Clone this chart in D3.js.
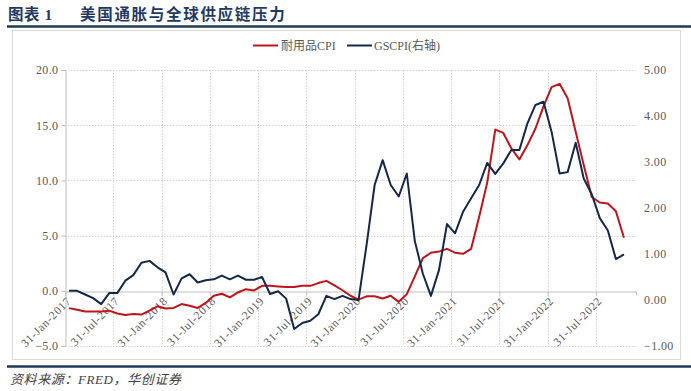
<!DOCTYPE html>
<html>
<head>
<meta charset="utf-8">
<script src="https://cdn.jsdelivr.net/npm/d3@7"></script>
<style>
  html, body { margin: 0; padding: 0; background: #fff; }
  svg { display: block; }
  text { font-family: "Liberation Serif", "Noto Sans CJK SC", serif; }
</style>
</head>
<body>
<svg id="chart" width="691" height="391"></svg>
<script>
// ---- data (monthly, Jan 2017 - Oct 2022) ----
const durableCPI = [
  -1.57, -1.72, -1.87, -1.87, -1.87, -1.80, -2.05, -2.20, -2.10, -2.15, -1.80, -1.40,
  -1.60, -1.55, -1.20, -1.35, -1.55, -1.10, -0.45, -0.27, -0.60, -0.15, 0.15, 0.03,
  0.45, 0.45, 0.40, 0.35, 0.35, 0.45, 0.45, 0.70, 0.90, 0.50, 0.05, -0.45,
  -0.80, -0.50, -0.50, -0.70, -0.45, -1.00, -0.30, 1.30, 2.96, 3.45, 3.55, 3.80,
  3.45, 3.35, 3.80, 6.70, 9.80, 14.60, 14.30, 12.90, 11.90, 13.20, 14.70, 16.70,
  18.45, 18.75, 17.45, 14.40, 11.40, 8.50, 8.00, 7.90, 7.20, 4.80
];
const gscpi = [
  0.20, 0.20, 0.12, 0.04, -0.09, 0.15, 0.15, 0.42, 0.54, 0.81, 0.85, 0.71,
  0.60, 0.12, 0.47, 0.56, 0.38, 0.43, 0.45, 0.53, 0.45, 0.53, 0.44, 0.44,
  0.50, 0.13, 0.19, 0.03, -0.63, -0.50, -0.45, -0.31, 0.09, 0.02, 0.09, 0.02,
  0.00, 1.20, 2.50, 3.04, 2.50, 2.25, 2.75, 1.28, 0.57, 0.09, 0.65, 1.65,
  1.45, 1.92, 2.21, 2.50, 2.98, 2.74, 2.97, 3.26, 3.26, 3.84, 4.24, 4.31,
  3.66, 2.75, 2.78, 3.42, 2.64, 2.30, 1.78, 1.51, 0.89, 0.99
];
const seriesNames = ["耐用品CPI", "GSCPI(右轴)"];
const seriesColors = ["#c0141c", "#15284a"];
const leftTicks = [-5, 0, 5, 10, 15, 20];
const rightTicks = [-1, 0, 1, 2, 3, 4, 5];
const xTickLabels = ["31-Jan-2017","31-Jul-2017","31-Jan-2018","31-Jul-2018","31-Jan-2019","31-Jul-2019",
                     "31-Jan-2020","31-Jul-2020","31-Jan-2021","31-Jul-2021","31-Jan-2022","31-Jul-2022"];
const xTickMonths = xTickLabels.map((d, i) => i * 6);
const title1 = "图表 1";
const title2 = "美国通胀与全球供应链压力";
const source = "资料来源：FRED，华创证券";

// ---- layout ----
const svg = d3.select("#chart");
const plot = { left: 65, right: 636, top: 70, bottom: 346 };
const nMonths = durableCPI.length + 1;

const x = d3.scaleLinear().domain([0, nMonths]).range([plot.left, plot.right]);
const yL = d3.scaleLinear().domain([-5, 20]).range([plot.bottom, plot.top]);
const yR = d3.scaleLinear().domain([-1, 5]).range([plot.bottom, plot.top]);

svg.append("rect").attr("width", 691).attr("height", 391).attr("fill", "#fff");

// title
svg.append("text").attr("x", 8).attr("y", 20)
  .attr("font-family", "Noto Sans CJK SC").attr("font-weight", "bold").attr("font-size", 15.5)
  .attr("letter-spacing", 0.5).attr("fill", "#1f3864").text(title1);
svg.append("text").attr("x", 80).attr("y", 20)
  .attr("font-family", "Noto Sans CJK SC").attr("font-weight", "bold").attr("font-size", 15.5)
  .attr("letter-spacing", 1.7).attr("fill", "#1f3864").text(title2);
svg.append("line").attr("x1", 7).attr("x2", 691).attr("y1", 26.5).attr("y2", 26.5)
  .attr("stroke", "#1f3a56").attr("stroke-width", 2.5);

// chart box
svg.append("rect").attr("x", 12.5).attr("y", 30.5).attr("width", 668).attr("height", 329)
  .attr("fill", "none").attr("stroke", "#d9d9d9");

// footer
svg.append("line").attr("x1", 7).attr("x2", 691).attr("y1", 366.5).attr("y2", 366.5)
  .attr("stroke", "#1f3a56").attr("stroke-width", 2.5);
svg.append("text").attr("x", 10).attr("y", 384)
  .attr("font-family", "Liberation Serif, Noto Sans CJK SC").attr("font-style", "italic")
  .attr("font-size", 13).attr("letter-spacing", 0.6).attr("fill", "#404040").text(source);

// gridlines
const grid = svg.append("g");
grid.selectAll("line.h").data(leftTicks.filter(d => d !== 0)).enter().append("line")
  .attr("x1", plot.left).attr("x2", plot.right)
  .attr("y1", d => Math.round(yL(d)) + 0.5).attr("y2", d => Math.round(yL(d)) + 0.5)
  .attr("stroke", "#d4d4d4").attr("stroke-dasharray", "1.5,1.5");
grid.selectAll("line.v").data(xTickMonths.slice(1)).enter().append("line")
  .attr("x1", d => Math.round(x(d)) + 0.5).attr("x2", d => Math.round(x(d)) + 0.5)
  .attr("y1", plot.top).attr("y2", plot.bottom)
  .attr("stroke", "#d4d4d4").attr("stroke-dasharray", "1.5,1.5");

// x axis at zero
const xAxis = d3.axisBottom(x).tickValues(xTickMonths).tickSize(4).tickFormat("");
const gx = svg.append("g").attr("transform", `translate(0,${Math.round(yL(0)) + 0.5})`).call(xAxis);
gx.select(".domain").attr("stroke", "#bfbfbf");
gx.selectAll(".tick line").attr("stroke", "#bfbfbf");
svg.append("g").selectAll("text").data(xTickMonths).enter().append("text")
  .attr("transform", d => `translate(${x(d) + 4},${yL(0) + 8}) rotate(-45)`)
  .attr("text-anchor", "end").attr("dy", "0.35em")
  .attr("font-size", 11.5).attr("letter-spacing", 0.7).attr("fill", "#595959")
  .text((d, i) => xTickLabels[i]);

// left axis
const gl = svg.append("g").attr("transform", `translate(${plot.left + 0.5},0)`)
  .call(d3.axisLeft(yL).tickValues(leftTicks).tickSize(4).tickPadding(3).tickFormat(d3.format(".1f")));
gl.select(".domain").attr("stroke", "#bfbfbf");
gl.selectAll(".tick line").attr("stroke", "#bfbfbf");
gl.selectAll(".tick text").attr("font-size", 12).attr("fill", "#595959")
  .attr("font-family", "Liberation Serif").attr("letter-spacing", 0.4);

// right axis
const gr = svg.append("g").attr("transform", `translate(${plot.right},0)`)
  .call(d3.axisRight(yR).tickValues(rightTicks).tickSize(0).tickPadding(8).tickFormat(d3.format(".2f")));
gr.select(".domain").remove();
gr.selectAll(".tick text").attr("font-size", 12).attr("fill", "#595959")
  .attr("font-family", "Liberation Serif").attr("letter-spacing", 0.4);

// lines
const lineL = d3.line().x((d, i) => x(i + 0.5)).y(d => yL(d));
const lineR = d3.line().x((d, i) => x(i + 0.5)).y(d => yR(d));
svg.append("path").datum(durableCPI).attr("d", lineL)
  .attr("fill", "none").attr("stroke", seriesColors[0]).attr("stroke-width", 2).attr("stroke-linejoin", "round");
svg.append("path").datum(gscpi).attr("d", lineR)
  .attr("fill", "none").attr("stroke", seriesColors[1]).attr("stroke-width", 2).attr("stroke-linejoin", "round");

// legend
const legend = svg.append("g");
const legendItems = [{ x: 253, tx: 281 }, { x: 347, tx: 374 }];
legendItems.forEach((it, i) => {
  legend.append("line").attr("x1", it.x).attr("x2", it.x + 25).attr("y1", 45.5).attr("y2", 45.5)
    .attr("stroke", seriesColors[i]).attr("stroke-width", 2);
  legend.append("text").attr("x", it.tx).attr("y", 50).attr("font-size", 12)
    .attr("fill", "#595959").text(seriesNames[i]);
});
</script>
</body>
</html>
